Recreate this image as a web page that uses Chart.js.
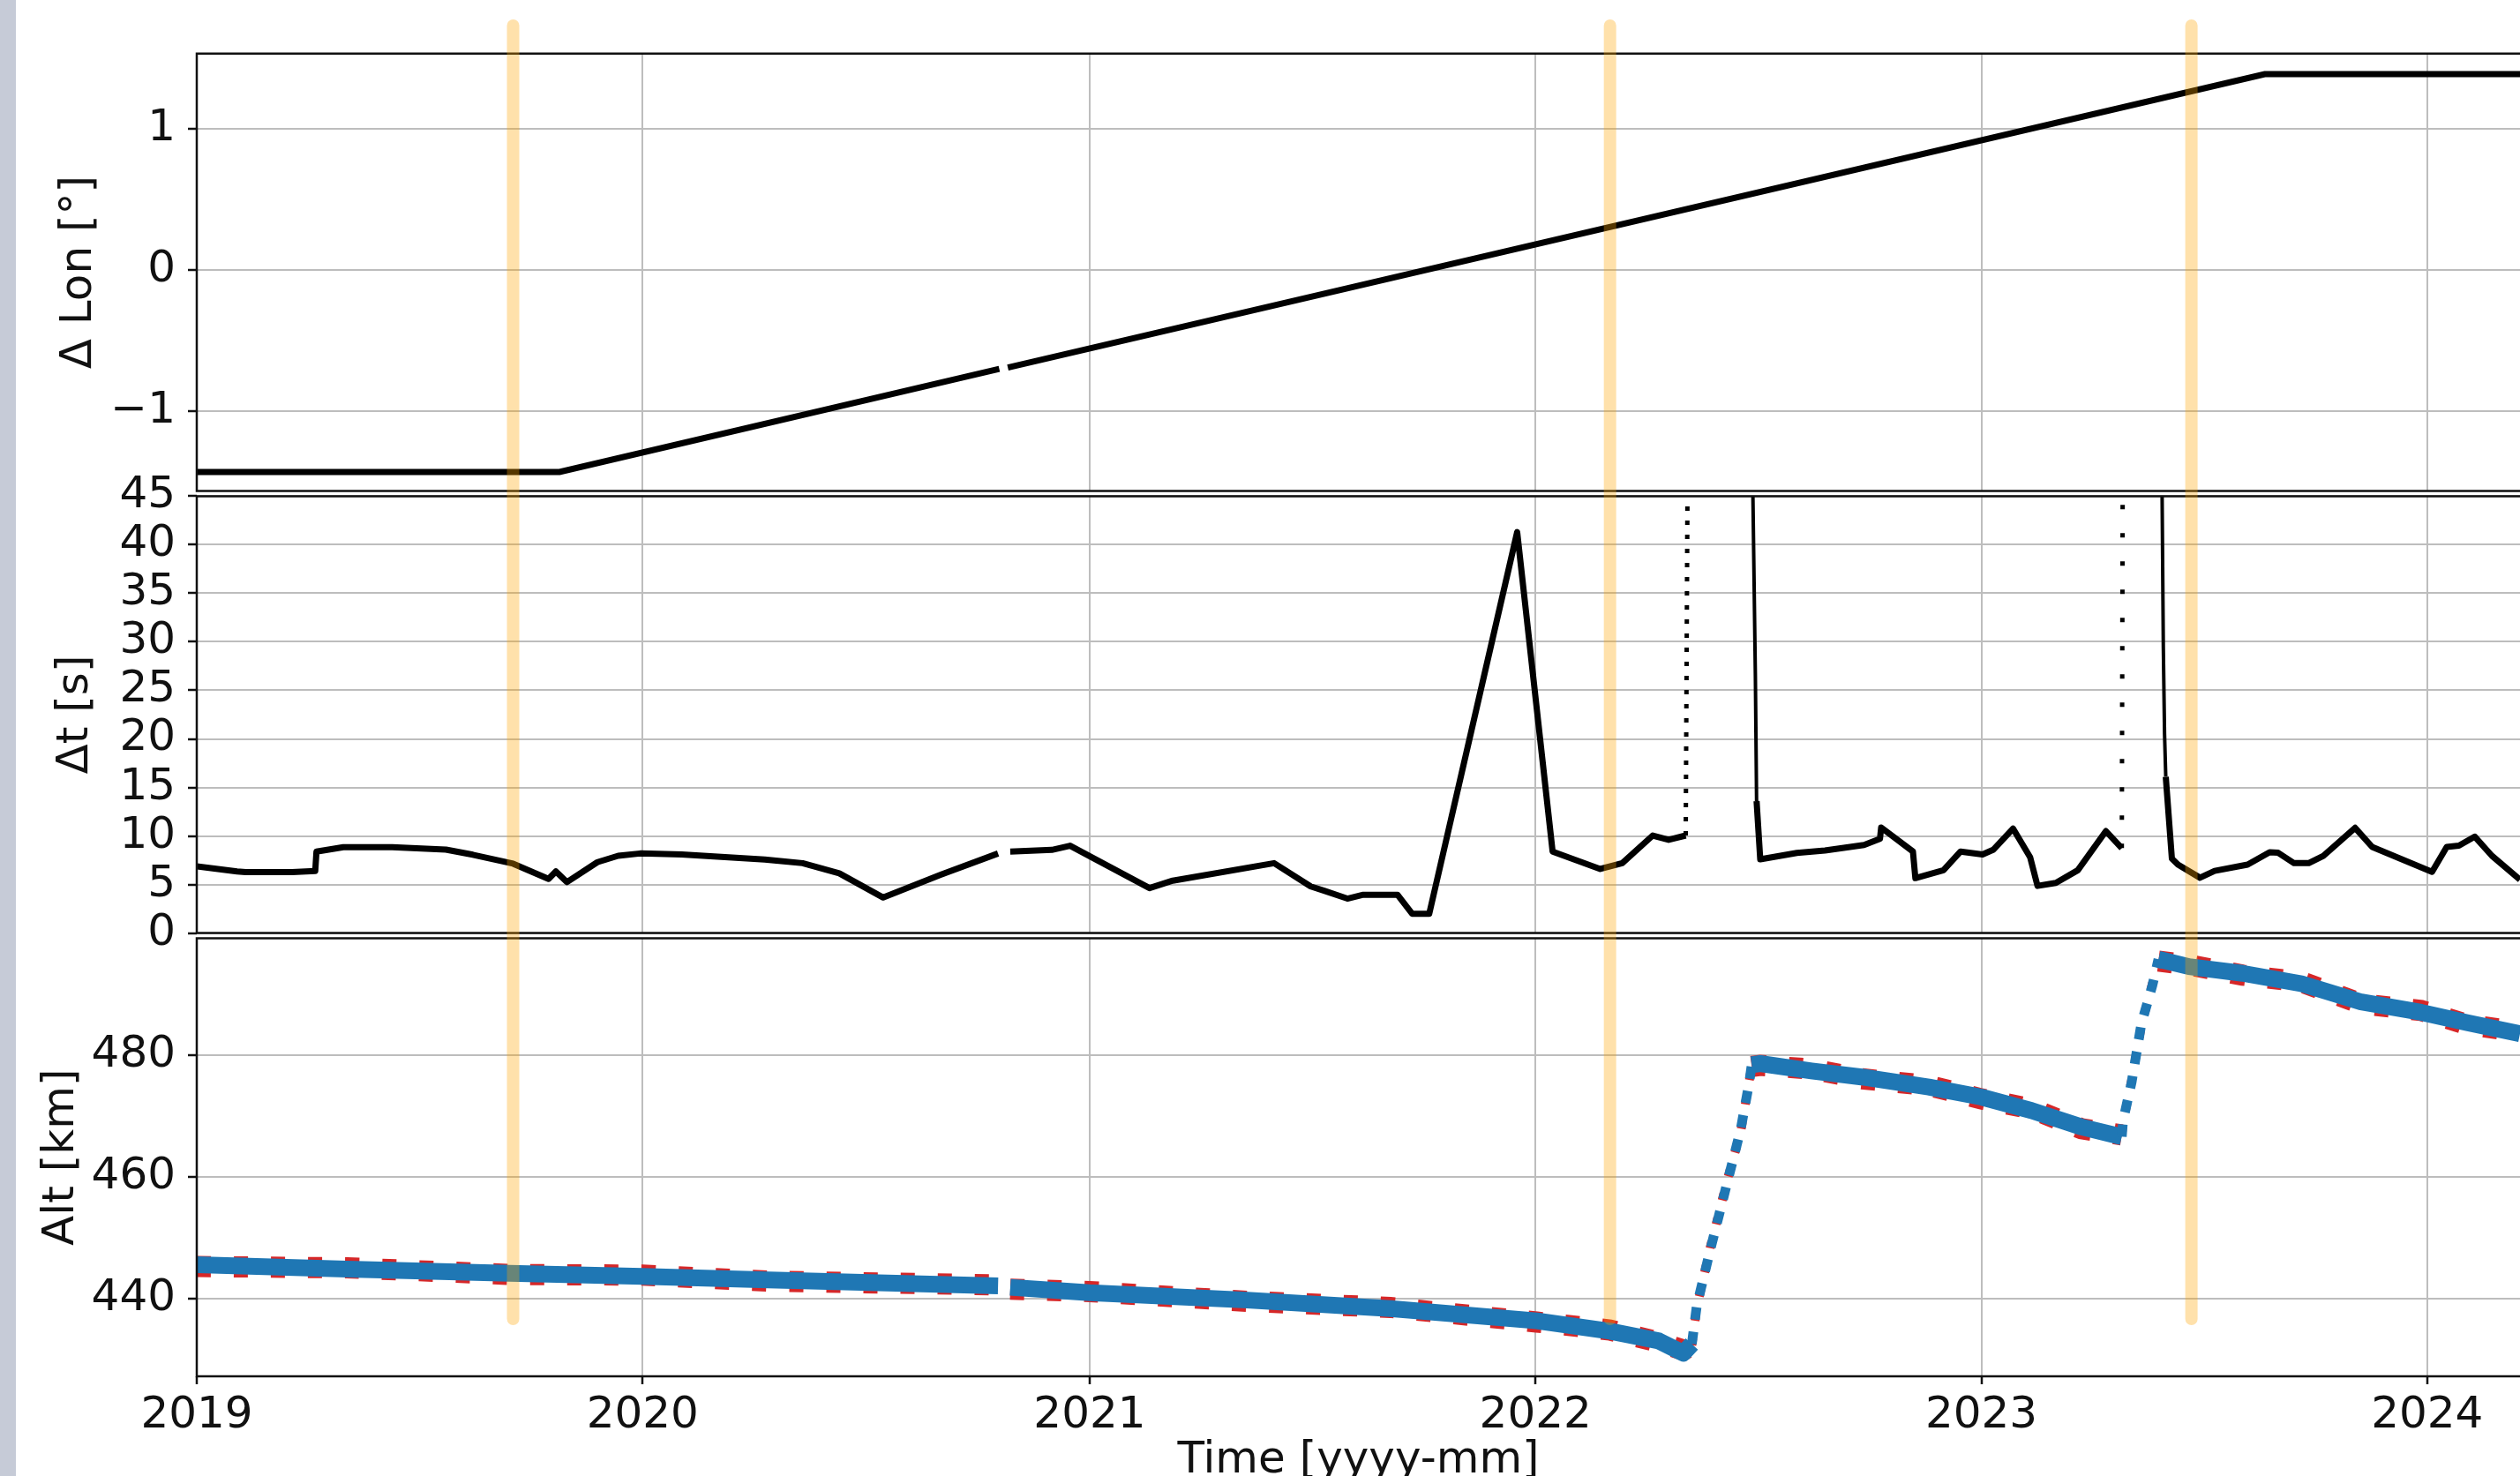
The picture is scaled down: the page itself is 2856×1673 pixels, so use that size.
<!DOCTYPE html>
<html>
<head>
<meta charset="utf-8">
<script src="https://cdn.jsdelivr.net/npm/chart.js@4.4.1/dist/chart.umd.min.js"></script>
<style>
  html, body { margin: 0; padding: 0; background: #fff; width: 2856px; height: 1673px; overflow: hidden; }
  canvas { position: absolute; left: 0; }
  #strip { position: absolute; left: 0; top: 0; width: 18px; height: 1673px; background: #c6cbd7; z-index: 5; }
</style>
</head>
<body>
<div id="strip"></div>
<canvas id="lon" width="2856" height="620" style="top:0px"></canvas>
<canvas id="dt" width="2856" height="620" style="top:500px"></canvas>
<canvas id="alt" width="2856" height="690" style="top:1000px"></canvas>
<canvas id="events" width="2856" height="1673" style="top:0px;pointer-events:none"></canvas>
<script>
// --- data ---
const yearTicks = [2019, 2020, 2021, 2022, 2023, 2024];
const lonTicks = [-1, 0, 1];
const dtTicks = [0, 5, 10, 15, 20, 25, 30, 35, 40, 45];
const altTicks = [440, 460, 480];

const eventDates = ['2019-09-17', '2022-03-03', '2023-06-22'];

const lonDates  = ['2019-01-01', '2019-10-25', '2020-10-19', '2020-10-23', '2020-10-26', '2023-08-21', '2024-03-17'];
const lonValues = [-1.43, -1.43, -0.70, null, -0.69, 1.39, 1.39];

const dtDates = [
  '2019-01-01', '2019-02-03', '2019-02-10', '2019-03-20', '2019-04-08', '2019-04-09', '2019-05-01', '2019-06-10',
  '2019-07-24', '2019-08-15', '2019-09-17', '2019-10-16', '2019-10-22', '2019-10-31', '2019-11-25', '2019-12-12',
  '2019-12-30', '2020-02-02', '2020-04-10', '2020-05-11', '2020-06-10', '2020-07-16', '2020-09-01', '2020-10-18',
  '2020-10-23', '2020-10-28', '2020-12-01', '2020-12-16', '2021-02-19', '2021-03-10', '2021-06-01', '2021-07-01',
  '2021-07-12', '2021-07-31', '2021-08-13', '2021-09-10', '2021-09-22', '2021-10-06', '2021-12-17', '2022-01-15',
  '2022-02-23', '2022-03-13', '2022-04-07', '2022-04-20', '2022-05-04', '2022-05-06', '2022-06-27', '2022-06-28',
  '2022-06-30', '2022-07-01', '2022-07-04', '2022-08-03', '2022-08-26', '2022-09-27', '2022-10-10', '2022-10-11',
  '2022-11-06', '2022-11-08', '2022-12-01', '2022-12-15', '2023-01-02', '2023-01-11', '2023-01-27', '2023-02-10',
  '2023-02-16', '2023-03-03', '2023-03-21', '2023-04-13', '2023-04-26', '2023-04-27', '2023-05-28', '2023-05-29',
  '2023-05-30', '2023-05-31', '2023-06-01', '2023-06-06', '2023-06-11', '2023-06-29', '2023-07-11', '2023-08-07',
  '2023-08-25', '2023-09-01', '2023-09-14', '2023-09-26', '2023-10-08', '2023-11-03', '2023-11-17', '2024-01-05',
  '2024-01-17', '2024-01-27', '2024-02-09', '2024-02-23', '2024-03-17'
];
const dtValues = [
  6.88, 6.35, 6.27, 6.27, 6.4, 8.39, 8.85, 8.85,
  8.6, 8.07, 7.15, 5.57, 6.35, 5.25, 7.3, 7.96,
  8.2, 8.1, 7.57, 7.2, 6.15, 3.66, 6.0, 8.2,
  null, 8.4, 8.57, 9.0, 4.63, 5.4, 7.2, 4.8,
  4.36, 3.55, 3.95, 3.95, 1.99, 1.99, 41.3, 8.4,
  6.6, 7.2, 10.05, 9.6, 10.05, 60, 60, 45,
  26.6, 13.6, 7.6, 8.26, 8.5, 9.07, 9.7, 10.87,
  8.4, 5.66, 6.47, 8.4, 8.1, 8.6, 10.76, 7.8,
  4.86, 5.17, 6.47, 10.5, 8.75, 60, 60, 45,
  29.4, 20.5, 16.1, 7.66, 7.05, 5.7, 6.4, 7.05,
  8.33, 8.27, 7.2, 7.2, 7.96, 10.84, 8.87, 6.3,
  8.87, 9.0, 9.93, 7.96, 5.5
];

const altDates = [
  '2019-01-01', '2019-05-04', '2019-09-14', '2020-01-01', '2020-04-13', '2020-10-18', '2020-10-23', '2020-10-28',
  '2021-01-01', '2021-05-10', '2021-09-04', '2022-01-02', '2022-03-03', '2022-04-12', '2022-05-02', '2022-05-09',
  '2022-05-13', '2022-05-24', '2022-06-07', '2022-06-18', '2022-06-25', '2022-06-27', '2022-07-04', '2022-08-15',
  '2022-09-25', '2022-11-19', '2023-01-01', '2023-02-11', '2023-03-24', '2023-04-26', '2023-04-27', '2023-05-04',
  '2023-05-12', '2023-05-21', '2023-05-26', '2023-06-20', '2023-08-03', '2023-09-20', '2023-11-08', '2023-12-27',
  '2024-02-03', '2024-03-17'
];
const altBlue = [
  445.6, 444.9, 444.2, 443.7, 443.1, 442.15, null, 441.9,
  441.0, 439.8, 438.4, 436.4, 434.7, 433.1, 431.1, 432.6,
  438.8, 448.0, 459.1, 467.8, 475.5, 478.4, 478.6, 477.4,
  476.4, 474.75, 473.1, 470.9, 468.2, 466.6, 469.2, 475.5,
  485.1, 491.4, 495.7, 494.5, 493.4, 491.7, 488.7, 487.0,
  485.3, 483.5
];
const altRed = [
  445.3, 445.1, 444.0, 443.9, 442.9, 442.3, null, 441.6,
  441.2, 439.6, 438.6, 436.2, 434.9, 432.9, 431.6, 432.4,
  438.5, 448.4, 459.5, 467.4, 475.8, 478.1, 478.3, 477.7,
  476.1, 475.0, 472.8, 471.2, 467.9, 466.9, 468.9, 475.8,
  484.8, 491.7, 495.4, 494.8, 493.1, 492.0, 488.4, 487.3,
  485.0, 483.8
];

// --- helpers ---
const INK = '#111';
const GRID = '#bdbdbd';
const ms = s => Date.parse(s + 'T00:00:00Z');
const pts = (dates, vals) => dates.map((d, i) => ({ x: ms(d), y: vals[i] }));
const X_MIN = ms('2019-01-01');
const X_MAX = ms('2024-03-17');

Chart.defaults.font.family = "'DejaVu Sans'";
Chart.defaults.color = INK;

const slope = c => Math.abs((c.p1.y - c.p0.y) / ((c.p1.x - c.p0.x) || 0.01));
const rising = c => c.p1.y < c.p0.y;

const frame = {
  id: 'frame',
  afterDatasetsDraw(chart) {
    const { ctx, chartArea: a } = chart;
    ctx.save();
    ctx.strokeStyle = INK;
    ctx.lineWidth = 2.5;
    ctx.beginPath();
    ctx.moveTo(a.right + 4, a.top);
    ctx.lineTo(a.left, a.top);
    ctx.lineTo(a.left, a.bottom);
    ctx.lineTo(a.right + 4, a.bottom);
    ctx.stroke();
    ctx.restore();
  }
};

function xScale(showLabels) {
  return {
    type: 'linear',
    min: X_MIN,
    max: X_MAX,
    afterBuildTicks: s => { s.ticks = yearTicks.map(y => ({ value: Date.UTC(y, 0, 1) })); },
    afterFit: s => { s.height = showLabels ? 130 : 0; s.paddingLeft = 0; s.paddingRight = 0; },
    grid: { color: GRID, lineWidth: 2, drawTicks: showLabels, tickLength: 9, tickColor: INK, tickWidth: 2.5 },
    border: { display: false },
    ticks: {
      display: showLabels, color: INK, font: { size: 50 }, padding: 6,
      maxRotation: 0, autoSkip: false,
      callback: v => String(new Date(v).getUTCFullYear())
    },
    title: { display: showLabels, text: 'Time [yyyy-mm]', color: INK, font: { size: 50 }, padding: { top: 0, bottom: 4 } }
  };
}

function yScale(min, max, ticks, title, titlePad) {
  return {
    min: min,
    max: max,
    afterBuildTicks: s => { s.ticks = ticks.map(v => ({ value: v })); },
    afterFit: s => { s.width = 223; s.paddingTop = 0; s.paddingBottom = 0; },
    grid: { color: GRID, lineWidth: 2, tickLength: 10, tickColor: INK, tickWidth: 2.5 },
    border: { display: false },
    ticks: {
      color: INK, font: { size: 50 }, padding: 14, autoSkip: false,
      callback: v => (v < 0 ? '\u2212' + Math.abs(v) : String(v))
    },
    title: { display: true, text: title, color: INK, font: { size: 50 }, padding: { top: titlePad, bottom: 0 } }
  };
}

const common = {
  animation: false,
  responsive: false,
  devicePixelRatio: 1,
  events: [],
  plugins: { legend: { display: false }, tooltip: { enabled: false } }
};

// --- panel 1: longitude offset ---
new Chart(document.getElementById('lon'), {
  type: 'line',
  data: {
    datasets: [{ data: pts(lonDates, lonValues), borderColor: '#000', borderWidth: 7, pointRadius: 0 }]
  },
  options: {
    ...common,
    layout: { padding: { top: 60.7, bottom: 63.5, left: 0, right: 0 } },
    scales: { x: xScale(false), y: yScale(-1.565, 1.536, lonTicks, 'Δ Lon [°]', 60) }
  },
  plugins: [frame]
});

// --- panel 2: time offset ---
new Chart(document.getElementById('dt'), {
  type: 'line',
  data: {
    datasets: [{
      data: pts(dtDates, dtValues),
      borderColor: '#000',
      borderWidth: 7,
      borderJoinStyle: 'round',
      pointRadius: 0,
      segment: {
        borderDash: c => (rising(c) && slope(c) > 20) ? (c.p0.parsed.x < ms('2023-01-01') ? [5, 11] : [5, 27]) : undefined,
        borderWidth: c => (rising(c) && slope(c) > 20) ? 5 : (slope(c) > 20 ? 4 : undefined)
      }
    }]
  },
  options: {
    ...common,
    layout: { padding: { top: 62.4, bottom: 62.4, left: 0, right: 0 } },
    scales: { x: xScale(false), y: yScale(0, 45, dtTicks, 'Δt [s]', 56) }
  },
  plugins: [frame]
});

// --- panel 3: altitude ---
new Chart(document.getElementById('alt'), {
  type: 'line',
  data: {
    datasets: [
      {
        data: pts(altDates, altBlue),
        borderColor: '#1f77b4',
        borderWidth: 19,
        borderJoinStyle: 'round',
        pointRadius: 0,
        segment: {
          borderDash: c => slope(c) > 1.5 ? [14, 14] : undefined,
          borderWidth: c => slope(c) > 1.5 ? 11 : undefined
        }
      },
      {
        data: pts(altDates, altRed),
        borderColor: '#d62728',
        borderWidth: 24,
        borderDash: [16, 26],
        pointRadius: 0,
        segment: {
          borderDash: c => slope(c) > 1.5 ? [8, 20] : undefined,
          borderWidth: c => slope(c) > 1.5 ? 10 : undefined
        }
      }
    ]
  },
  options: {
    ...common,
    layout: { padding: { top: 63.5, bottom: 0, left: 0, right: 0 } },
    scales: { x: xScale(true), y: yScale(427.3, 499.15, altTicks, 'Alt [km]', 40) }
  },
  plugins: [frame]
});

// --- event markers across all panels ---
new Chart(document.getElementById('events'), {
  type: 'line',
  data: {
    datasets: eventDates.map(d => ({
      data: [{ x: ms(d), y: 0 }, { x: ms(d), y: 1 }],
      borderColor: 'rgba(255,165,0,0.33)',
      borderWidth: 14,
      borderCapStyle: 'round',
      pointRadius: 0,
      clip: false
    }))
  },
  options: {
    ...common,
    layout: { padding: { top: 29, bottom: 178, left: 223, right: 0 } },
    scales: {
      x: { type: 'linear', display: false, min: X_MIN, max: X_MAX },
      y: { display: false, min: 0, max: 1 }
    }
  }
});
</script>
</body>
</html>
